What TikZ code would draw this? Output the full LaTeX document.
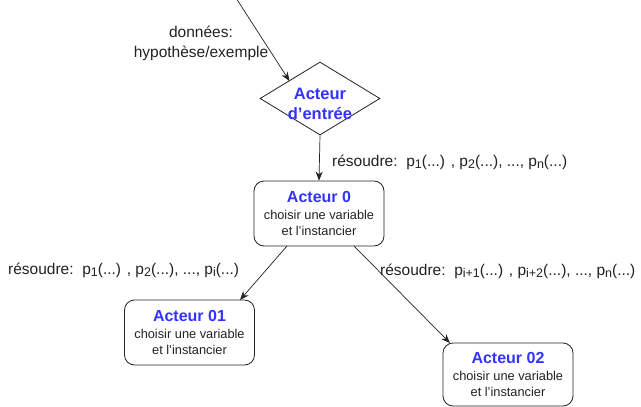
\documentclass[tikz,border=0pt]{standalone}
\usepackage{fontspec}
\setmainfont{Liberation Sans}
\usetikzlibrary{shapes.geometric,arrows.meta}
\definecolor{ttl}{HTML}{3333FF}
\definecolor{ink}{HTML}{222222}
\newcommand{\sbs}[1]{\raisebox{-0.3ex}{\fontsize{12.5}{12.5}\selectfont #1}}
\newcommand{\actortext}[1]{{\fontsize{16}{19}\selectfont\bfseries\color{ttl}#1}\\[1.5pt]choisir une variable\\et l'instancier}
\begin{document}
\begin{tikzpicture}[x=1pt,y=-1pt,
  actor/.style={draw=ink,rounded corners=10pt,line width=0.8pt,minimum width=130pt,minimum height=65pt,align=center,inner sep=0pt,font=\fontsize{12.8}{16.2}\selectfont,text=ink},
  lbl/.style={font=\fontsize{15.5}{18}\selectfont,text=ink,inner sep=0pt},
  arr/.style={draw=ink,line width=0.7pt,-{Stealth[length=9pt,width=7pt]}}]
\useasboundingbox (0,0) rectangle (641,407);
\fill[white] (0,0) rectangle (641,407);
\node[diamond,draw=ink,line width=0.8pt,minimum width=120pt,minimum height=73pt,inner sep=0pt,aspect=1.64] (e) at (320,98.5) {};
\node[align=center,inner sep=0pt,font=\fontsize{16.5}{20}\selectfont\bfseries,text=ttl] (et) at (320,103.5) {Acteur\\d'entrée};
\node[actor] (a0) at (319,213.5) {\actortext{Acteur 0}};
\node[actor] (a1) at (189.5,332.5) {\actortext{Acteur 01}};
\node[actor,minimum height=63pt] (a2) at (508,374.5) {\actortext{Acteur 02}};
\coordinate (src) at (236,-2);
\node[lbl,align=center,font=\fontsize{15.5}{20}\selectfont] (d) at (201,43) {données:\\hypothèse/exemple};
\draw[arr] (src) -- (289.5,81);
\draw[arr] (e.south) -- (a0.north);
\draw[arr] (287,246) -- (240,300);
\draw[arr] (354,246) -- (450,343);
\node[lbl,anchor=west] (l0) at (332,162) {résoudre:\ \ p\sbs{1}(...) , p\sbs{2}(...), ..., p\sbs{n}(...)};
\node[lbl,anchor=west] (l1) at (8,270) {résoudre:\ \ p\sbs{1}(...) , p\sbs{2}(...), ..., p\sbs{i}(...)};
\node[lbl,anchor=west] (l2) at (380,271) {résoudre:\ \ p\sbs{i+1}(...) , p\sbs{i+2}(...), ..., p\sbs{n}(...)};
\end{tikzpicture}
\end{document}
